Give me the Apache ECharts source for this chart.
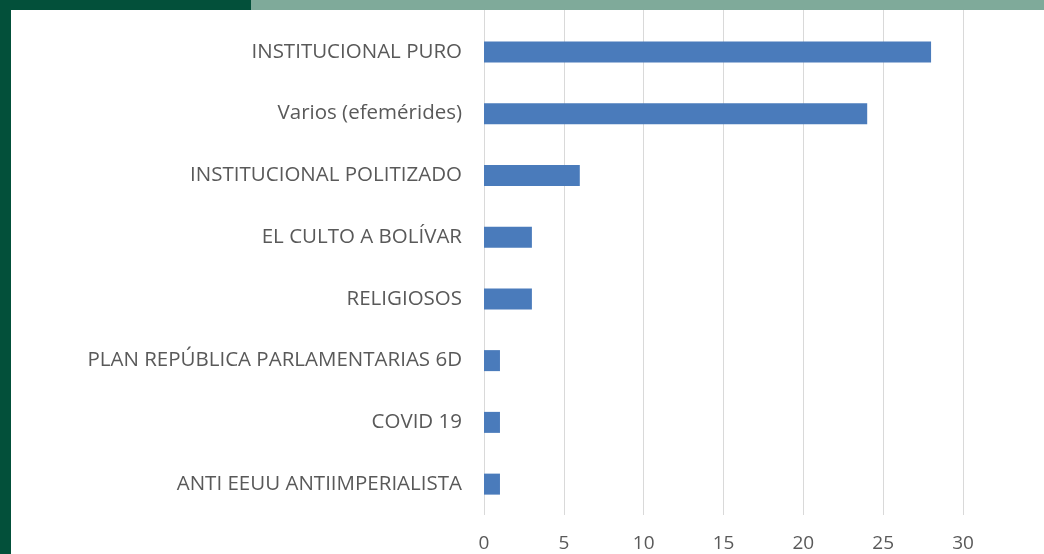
<!DOCTYPE html>
<html>
<head>
<meta charset="utf-8">
<script src="https://cdn.jsdelivr.net/npm/echarts@6/dist/echarts.min.js"></script>
<style>
  html, body { margin: 0; padding: 0; background: #fff; }
  #chart { width: 1044px; height: 554px; }
</style>
</head>
<body>
<div id="chart"></div>
<script>
// categories from bottom to top (as ECharts draws a category y axis)
const categories = [
    'ANTI EEUU ANTIIMPERIALISTA',
    'COVID 19',
    'PLAN REPÚBLICA PARLAMENTARIAS 6D',
    'RELIGIOSOS',
    'EL CULTO A BOLÍVAR',
    'INSTITUCIONAL POLITIZADO',
    'Varios (efemérides)',
    'INSTITUCIONAL PURO'
];
const values = [1, 1, 1, 3, 3, 6, 24, 28];
const xTicks = [0, 5, 10, 15, 20, 25, 30];

(function () {
    const chart = echarts.init(document.getElementById('chart'));
    const labelFont = '"Open Sans", "DejaVu Sans", sans-serif';
    const xMin = xTicks[0], xMax = xTicks[xTicks.length - 1];
    const step = xTicks[1] - xTicks[0];

    const option = {
        backgroundColor: '#ffffff',
        animation: false,
        grid: [
            { left: 484, right: 81, top: 21, height: 494 },
            // only carries the gridlines up to the top band
            { left: 484, right: 81, top: 8, height: 14 }
        ],
        xAxis: [
            {
                type: 'value', gridIndex: 0,
                min: xMin, max: xMax, interval: step,
                axisLine: { show: false }, axisTick: { show: false },
                splitLine: { lineStyle: { color: '#d9d9d9', width: 1 } },
                axisLabel: { color: '#595959', fontSize: 19, fontFamily: labelFont, margin: 19 }
            },
            {
                type: 'value', gridIndex: 1,
                min: xMin, max: xMax, interval: step,
                axisLine: { show: false }, axisTick: { show: false },
                axisLabel: { show: false },
                splitLine: { lineStyle: { color: '#d9d9d9', width: 1 } }
            }
        ],
        yAxis: [
            {
                type: 'category', gridIndex: 0,
                data: categories,
                axisLine: { show: false }, axisTick: { show: false },
                axisLabel: { color: '#595959', fontSize: 20.5, fontFamily: labelFont, margin: 22 }
            },
            {
                type: 'category', gridIndex: 1, data: [''],
                axisLine: { show: false }, axisTick: { show: false }, axisLabel: { show: false }
            }
        ],
        series: [{
            type: 'bar',
            xAxisIndex: 0, yAxisIndex: 0,
            data: values,
            barWidth: 21,
            itemStyle: { color: '#4a7bbb' }
        }],
        graphic: [
            { type: 'rect', left: 0, top: 0, z: 100, shape: { width: 11, height: 554 }, style: { fill: '#03503a' } },
            { type: 'rect', left: 0, top: 0, z: 100, shape: { width: 251, height: 10 }, style: { fill: '#03503a' } },
            { type: 'rect', left: 251, top: 0, z: 100, shape: { width: 793, height: 10 }, style: { fill: '#7faa9a' } }
        ]
    };
    chart.setOption(option);
})();
</script>
</body>
</html>
